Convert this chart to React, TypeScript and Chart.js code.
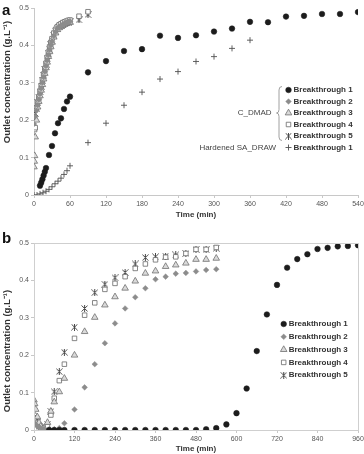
import React, { useEffect, useRef } from 'react';
import { Chart, registerables } from 'chart.js';
import { drawPoint } from 'chart.js/helpers';

Chart.register(...registerables);

// ---------- Panel a data ----------
const A_C1_T = [10, 12, 14, 16, 18, 20, 25, 30, 35, 40, 45, 50, 55, 60, 90, 120, 150, 180, 210, 240, 270, 300, 330, 360, 390, 420, 450, 480, 510, 540];
const A_C1_V = [0.025, 0.033, 0.042, 0.052, 0.062, 0.072, 0.107, 0.131, 0.165, 0.192, 0.205, 0.23, 0.25, 0.263, 0.328, 0.358, 0.385, 0.39, 0.426, 0.42, 0.427, 0.437, 0.445, 0.463, 0.462, 0.477, 0.479, 0.484, 0.484, 0.489];

const A_B2_T = [0, 2, 4, 6, 8, 10, 12, 14, 16, 18, 20, 22, 24, 26, 28, 30, 33, 36, 39, 42, 45, 48, 51, 54, 57, 60];
const A_B2_V = [0.19, 0.21, 0.225, 0.24, 0.255, 0.27, 0.285, 0.3, 0.315, 0.33, 0.345, 0.36, 0.374, 0.388, 0.4, 0.41, 0.425, 0.436, 0.445, 0.45, 0.453, 0.456, 0.458, 0.46, 0.462, 0.464];

const A_B3_T = [0, 0.5, 1, 2, 4, 6, 8, 10, 12, 14, 16, 18, 20, 22, 24, 26, 28, 30, 33, 36, 39, 42, 45, 48, 51, 54, 57, 60];
const A_B3_V = [0.075, 0.09, 0.105, 0.155, 0.2, 0.235, 0.25, 0.265, 0.28, 0.295, 0.31, 0.325, 0.34, 0.355, 0.37, 0.383, 0.396, 0.408, 0.422, 0.433, 0.442, 0.447, 0.45, 0.453, 0.456, 0.458, 0.46, 0.462];

const A_B4_T = [1, 2, 4, 6, 8, 10, 12, 14, 16, 18, 20, 22, 24, 26, 28, 30, 33, 36, 39, 42, 45, 48, 51, 54, 57, 60, 75, 90];
const A_B4_V = [0.175, 0.18, 0.232, 0.248, 0.262, 0.277, 0.292, 0.308, 0.323, 0.338, 0.352, 0.368, 0.382, 0.396, 0.408, 0.418, 0.433, 0.443, 0.45, 0.455, 0.458, 0.461, 0.463, 0.465, 0.467, 0.468, 0.478, 0.49];

const A_B5_T = [0, 2, 4, 6, 8, 10, 12, 14, 16, 18, 20, 22, 24, 26, 28, 30, 33, 36, 39, 42, 45, 48, 51, 54, 57, 60, 75, 90];
const A_B5_V = [0.205, 0.218, 0.232, 0.247, 0.262, 0.276, 0.291, 0.306, 0.32, 0.336, 0.35, 0.364, 0.378, 0.39, 0.402, 0.412, 0.427, 0.438, 0.445, 0.45, 0.453, 0.456, 0.458, 0.46, 0.462, 0.463, 0.468, 0.482];

const A_HS_T = [0, 5, 10, 15, 20, 25, 30, 35, 40, 45, 50, 55, 60, 90, 120, 150, 180, 210, 240, 270, 300, 330, 360];
const A_HS_V = [0, 0, 0.003, 0.006, 0.01, 0.015, 0.022, 0.03, 0.037, 0.045, 0.055, 0.065, 0.078, 0.14, 0.192, 0.24, 0.275, 0.31, 0.33, 0.357, 0.37, 0.392, 0.414];

// ---------- Panel b data ----------
const B_B1_T = [45, 60, 75, 90, 120, 150, 180, 210, 240, 270, 300, 330, 360, 390, 420, 450, 480, 510, 540, 570, 600, 630, 660, 690, 720, 750, 780, 810, 840, 870, 900, 930, 960];
const B_B1_V = [0, 0, 0, 0, 0, 0, 0, 0, 0, 0, 0, 0, 0, 0, 0, 0, 0, 0.002, 0.005, 0.015, 0.045, 0.111, 0.211, 0.309, 0.388, 0.434, 0.457, 0.47, 0.484, 0.487, 0.491, 0.492, 0.494];

const B_B2_T = [0, 5, 10, 15, 20, 30, 45, 60, 75, 90, 120, 150, 180, 210, 240, 270, 300, 330, 360, 390, 420, 450, 480, 510, 540];
const B_B2_V = [0.02, 0.015, 0.01, 0.008, 0.005, 0.003, 0.002, 0.002, 0.005, 0.018, 0.055, 0.114, 0.176, 0.232, 0.285, 0.325, 0.355, 0.379, 0.403, 0.41, 0.418, 0.42, 0.424, 0.428, 0.43];

const B_B3_T = [0, 2, 5, 10, 15, 20, 30, 40, 50, 60, 75, 90, 120, 150, 180, 210, 240, 270, 300, 330, 360, 390, 420, 450, 480, 510, 540];
const B_B3_V = [0.08, 0.07, 0.055, 0.035, 0.02, 0.01, 0.005, 0.02, 0.05, 0.075, 0.102, 0.138, 0.2, 0.263, 0.301, 0.334, 0.356, 0.379, 0.398, 0.419, 0.425, 0.437, 0.441, 0.446, 0.456, 0.456, 0.459];

const B_B4_T = [0, 5, 10, 15, 20, 30, 40, 50, 60, 75, 90, 120, 150, 180, 210, 240, 270, 300, 330, 360, 390, 420, 450, 480, 510, 540];
const B_B4_V = [0.03, 0.02, 0.015, 0.01, 0.005, 0.003, 0.01, 0.04, 0.085, 0.132, 0.176, 0.245, 0.307, 0.34, 0.376, 0.392, 0.41, 0.432, 0.444, 0.455, 0.462, 0.463, 0.472, 0.483, 0.483, 0.488];

const B_B5_T = [0, 5, 10, 15, 20, 30, 40, 50, 60, 75, 90, 120, 150, 180, 210, 240, 270, 300, 330, 360, 390, 420, 450, 480, 510, 540];
const B_B5_V = [0.05, 0.03, 0.02, 0.01, 0.008, 0.005, 0.015, 0.05, 0.102, 0.156, 0.208, 0.275, 0.325, 0.367, 0.39, 0.407, 0.421, 0.444, 0.461, 0.463, 0.465, 0.468, 0.472, 0.483, 0.482, 0.486];

const LEGEND_LABELS = ['Breakthrough 1', 'Breakthrough 2', 'Breakthrough 3', 'Breakthrough 4', 'Breakthrough 5'];
const Y_TITLE = 'Outlet concentration (g.L\u207B\u00B9)';
const X_TITLE = 'Time (min)';

const FONT = '"Liberation Sans", Arial, Helvetica, sans-serif';

let starCanvas: HTMLCanvasElement | null = null;
function getStar(): HTMLCanvasElement {
  if (starCanvas) return starCanvas;
  const c = document.createElement('canvas');
  c.width = 7;
  c.height = 7;
  const g = c.getContext('2d')!;
  g.strokeStyle = '#4a4a4a';
  g.lineWidth = 1;
  g.beginPath();
  g.moveTo(0.5, 0.5); g.lineTo(6.5, 6.5);
  g.moveTo(6.5, 0.5); g.lineTo(0.5, 6.5);
  g.moveTo(3.5, 0); g.lineTo(3.5, 7);
  g.stroke();
  starCanvas = c;
  return c;
}

type Sty = { ps: any; r: number; bg: string; bd: string; bw: number };
function styles(): Record<string, Sty> {
  return {
    c: { ps: 'circle', r: 2.8, bg: '#1c1c1c', bd: '#1c1c1c', bw: 0.5 },
    d: { ps: 'rectRot', r: 2.8, bg: '#8c8c8c', bd: '#8c8c8c', bw: 0.5 },
    t: { ps: 'triangle', r: 3.8, bg: '#dadada', bd: '#707070', bw: 0.8 },
    s: { ps: 'rect', r: 3.2, bg: '#ffffff', bd: '#686868', bw: 0.8 },
    k: { ps: getStar(), r: 3.5, bg: '#4a4a4a', bd: '#4a4a4a', bw: 1 },
    p: { ps: 'cross', r: 3, bg: '#505050', bd: '#505050', bw: 0.9 },
  };
}

function zip(xs: number[], ys: number[]) {
  return xs.map((x, i) => ({ x, y: ys[i] }));
}

function ds(label: string, xs: number[], ys: number[], st: Sty) {
  return {
    label,
    data: zip(xs, ys),
    showLine: false,
    pointStyle: st.ps,
    pointRadius: st.r,
    pointBackgroundColor: st.bg,
    pointBorderColor: st.bd,
    pointBorderWidth: st.bw,
    backgroundColor: st.bg,
    borderColor: st.bd,
  };
}

type LegendEntry = { key: string; label: string; y: number };
type PanelCfg = {
  letter: string;
  letterY: number;
  height: number;
  padTop: number;
  xMax: number;
  xStep: number;
  xAxisH: number;
  xTitlePad: number;
  yTitleCenter: number;
  box: boolean;
  legend: LegendEntry[];
  markerX: number;
  textX: number;
  extra?: (ctx: CanvasRenderingContext2D) => void;
  datasets: () => any[];
};

function drawMarker(ctx: CanvasRenderingContext2D, st: Sty, x: number, y: number) {
  ctx.save();
  ctx.fillStyle = st.bg;
  ctx.strokeStyle = st.bd;
  ctx.lineWidth = st.bw;
  drawPoint(ctx, { pointStyle: st.ps, rotation: 0, radius: st.r, borderWidth: st.bw } as any, x, y);
  ctx.restore();
}

function PanelChart({ cfg }: { cfg: PanelCfg }) {
  const ref = useRef<HTMLCanvasElement>(null);
  useEffect(() => {
    if (!ref.current) return;
    const S = styles();
    const decor = {
      id: 'decor',
      afterDraw(chart: any) {
        const ctx: CanvasRenderingContext2D = chart.ctx;
        const a = chart.chartArea;
        ctx.save();
        if (cfg.box) {
          ctx.strokeStyle = '#cfcfcf';
          ctx.lineWidth = 1;
          ctx.strokeRect(Math.round(a.left) + 0.5, Math.round(a.top) + 0.5, Math.round(a.right - a.left), Math.round(a.bottom - a.top));
        }
        // y title
        ctx.save();
        ctx.translate(7.5, cfg.yTitleCenter);
        ctx.rotate(-Math.PI / 2);
        ctx.textAlign = 'center';
        ctx.textBaseline = 'middle';
        ctx.font = `bold 9.5px ${FONT}`;
        ctx.fillStyle = '#333';
        ctx.fillText(Y_TITLE, 0, 0);
        ctx.restore();
        // panel letter
        ctx.font = `bold 15px ${FONT}`;
        ctx.fillStyle = '#111';
        ctx.textAlign = 'left';
        ctx.textBaseline = 'alphabetic';
        ctx.fillText(cfg.letter, 2, cfg.letterY);
        // legend
        for (const e of cfg.legend) {
          drawMarker(ctx, S[e.key], cfg.markerX, e.y);
          ctx.fillStyle = '#333';
          ctx.font = `bold 8px ${FONT}`;
          ctx.textAlign = 'left';
          ctx.textBaseline = 'middle';
          ctx.fillText(e.label, cfg.textX, e.y);
        }
        if (cfg.extra) cfg.extra(ctx);
        ctx.restore();
      },
    };
    const chart = new Chart(ref.current, {
      type: 'scatter',
      data: { datasets: cfg.datasets() },
      options: {
        animation: false,
        responsive: false,
        devicePixelRatio: 1,
        events: [],
        layout: { padding: { left: 0, right: 6, top: cfg.padTop, bottom: 0 } },
        plugins: { legend: { display: false }, tooltip: { enabled: false } },
        scales: {
          x: {
            type: 'linear',
            min: 0,
            max: cfg.xMax,
            ticks: { stepSize: cfg.xStep, font: { family: FONT, size: 7 }, color: '#555', padding: 2, maxRotation: 0, autoSkip: false },
            grid: { display: true, drawOnChartArea: false, drawTicks: true, tickLength: 3, color: '#c8c8c8' },
            border: { display: true, color: '#c8c8c8' },
            title: { display: true, text: X_TITLE, font: { family: FONT, size: 8, weight: 'bold' }, color: '#333', padding: { top: 0, bottom: cfg.xTitlePad } },
            afterFit: (s: any) => { s.height = cfg.xAxisH; s.paddingLeft = 0; s.paddingRight = 0; },
          },
          y: {
            type: 'linear',
            min: 0,
            max: 0.5,
            ticks: { stepSize: 0.1, font: { family: FONT, size: 7 }, color: '#555', padding: 2 },
            grid: { display: true, drawOnChartArea: false, drawTicks: true, tickLength: 3, color: '#c8c8c8' },
            border: { display: true, color: '#c8c8c8' },
            afterFit: (s: any) => { s.width = 34; s.paddingTop = 0; s.paddingBottom = 0; },
          },
        },
      } as any,
      plugins: [decor],
    });
    return () => chart.destroy();
  }, [cfg]);
  return <canvas ref={ref} width={364} height={cfg.height} style={{ display: 'block' }} />;
}

const PANEL_A: PanelCfg = {
  letter: 'a',
  letterY: 15,
  height: 222,
  padTop: 8,
  xMax: 540,
  xStep: 60,
  xAxisH: 27,
  xTitlePad: 2.2,
  yTitleCenter: 82,
  box: false,
  markerX: 288.5,
  textX: 293.5,
  legend: [
    { key: 'c', label: LEGEND_LABELS[0], y: 90 },
    { key: 'd', label: LEGEND_LABELS[1], y: 101.5 },
    { key: 't', label: LEGEND_LABELS[2], y: 113 },
    { key: 's', label: LEGEND_LABELS[3], y: 124.5 },
    { key: 'k', label: LEGEND_LABELS[4], y: 136 },
    { key: 'p', label: LEGEND_LABELS[0], y: 147.5 },
  ],
  extra: (ctx) => {
    ctx.save();
    ctx.font = `8px ${FONT}`;
    ctx.fillStyle = '#444';
    ctx.textAlign = 'right';
    ctx.textBaseline = 'middle';
    ctx.fillText('C_DMAD', 271.5, 113);
    ctx.fillText('Hardened SA_DRAW', 276, 147.5);
    ctx.strokeStyle = '#888';
    ctx.lineWidth = 0.8;
    ctx.beginPath();
    ctx.moveTo(282, 86.5);
    ctx.quadraticCurveTo(279, 86.5, 279, 90);
    ctx.lineTo(279, 109.5);
    ctx.quadraticCurveTo(279, 113, 276.5, 113);
    ctx.quadraticCurveTo(279, 113, 279, 116.5);
    ctx.lineTo(279, 137);
    ctx.quadraticCurveTo(279, 140.5, 282, 140.5);
    ctx.stroke();
    ctx.restore();
  },
  datasets: () => {
    const S = styles();
    return [
      ds('C_DMAD Breakthrough 1', A_C1_T, A_C1_V, S.c),
      ds('C_DMAD Breakthrough 2', A_B2_T, A_B2_V, S.d),
      ds('C_DMAD Breakthrough 3', A_B3_T, A_B3_V, S.t),
      ds('C_DMAD Breakthrough 4', A_B4_T, A_B4_V, S.s),
      ds('C_DMAD Breakthrough 5', A_B5_T, A_B5_V, S.k),
      ds('Hardened SA_DRAW Breakthrough 1', A_HS_T, A_HS_V, S.p),
    ];
  },
};

const PANEL_B: PanelCfg = {
  letter: 'b',
  letterY: 21,
  height: 232,
  padTop: 21,
  xMax: 960,
  xStep: 120,
  xAxisH: 24,
  xTitlePad: 0.2,
  yTitleCenter: 129,
  box: true,
  markerX: 283.7,
  textX: 288.7,
  legend: [
    { key: 'c', label: LEGEND_LABELS[0], y: 102 },
    { key: 'd', label: LEGEND_LABELS[1], y: 114.8 },
    { key: 't', label: LEGEND_LABELS[2], y: 127.6 },
    { key: 's', label: LEGEND_LABELS[3], y: 140.4 },
    { key: 'k', label: LEGEND_LABELS[4], y: 153.2 },
  ],
  datasets: () => {
    const S = styles();
    return [
      ds('Breakthrough 1', B_B1_T, B_B1_V, S.c),
      ds('Breakthrough 2', B_B2_T, B_B2_V, S.d),
      ds('Breakthrough 3', B_B3_T, B_B3_V, S.t),
      ds('Breakthrough 4', B_B4_T, B_B4_V, S.s),
      ds('Breakthrough 5', B_B5_T, B_B5_V, S.k),
    ];
  },
};

export default function App() {
  return (
    <div style={{ position: 'absolute', left: 0, top: 0, width: 364, height: 454, background: '#fff', overflow: 'hidden' }}>
      <div style={{ position: 'absolute', left: 0, top: 0 }}>
        <PanelChart cfg={PANEL_A} />
      </div>
      <div style={{ position: 'absolute', left: 0, top: 222 }}>
        <PanelChart cfg={PANEL_B} />
      </div>
    </div>
  );
}
